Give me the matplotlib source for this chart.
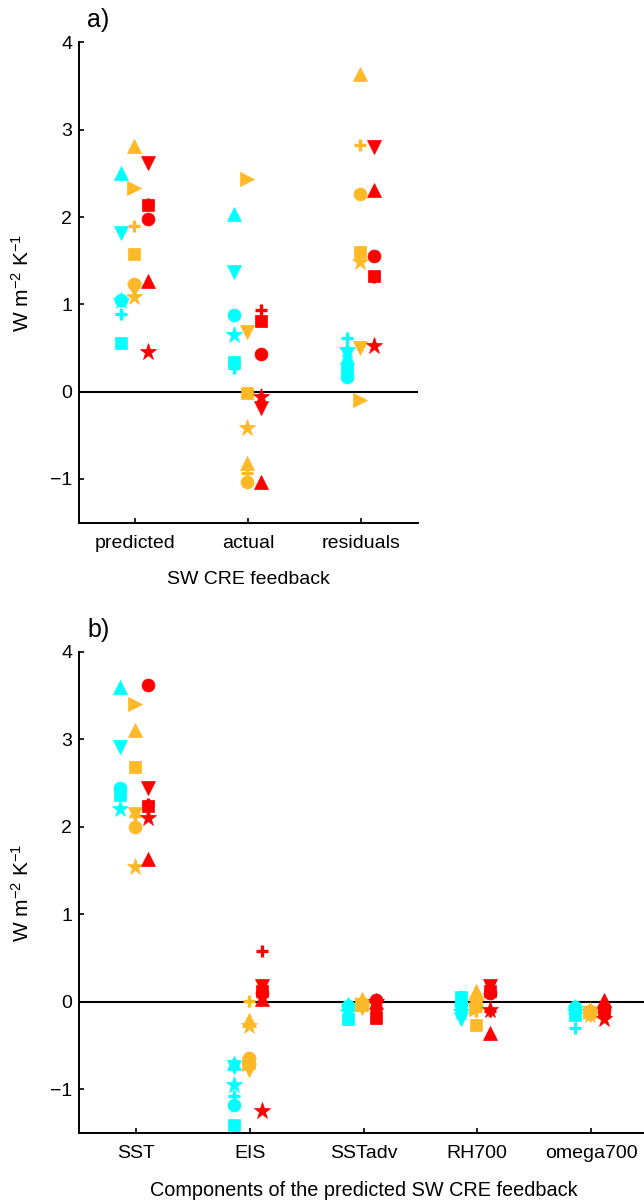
import numpy as np
import matplotlib
matplotlib.use('Agg')
import matplotlib.pyplot as plt

plt.rcParams['font.family'] = ['Liberation Sans', 'DejaVu Sans']
plt.rcParams['mathtext.fontset'] = 'custom'
plt.rcParams['mathtext.rm'] = 'Liberation Sans'
plt.rcParams['mathtext.it'] = 'Liberation Sans:italic'
plt.rcParams['font.size'] = 14

# Categories
cats_a = ['predicted', 'actual', 'residuals']
cats_b = ['SST', 'EIS', 'SSTadv', 'RH700', 'omega700']

# Model groups: marker per model
cyan_markers = ['+', '^', 'v', 'o', 's', '*']
orange_markers = ['+', '^', 'v', 'o', 's', '*', '>']
red_markers = ['+', '^', 'v', 'o', 's', '*']

# Panel a values (rows follow marker lists, cols follow cats_a)
cyan_a = [[0.89, 0.27, 0.61],
          [2.50, 2.04, 0.40],
          [1.82, 1.37, 0.43],
          [1.05, 0.88, 0.17],
          [0.56, 0.34, 0.25],
          [1.04, 0.65, 0.48]]
orange_a = [[1.90, -0.93, 2.82],
            [2.81, -0.82, 3.64],
            [1.18, 0.68, 0.50],
            [1.23, -1.03, 2.26],
            [1.58, -0.02, 1.60],
            [1.08, -0.42, 1.49],
            [2.33, 2.43, -0.10]]
red_a = [[2.15, 0.94, 1.31],
         [1.27, -1.03, 2.31],
         [2.62, -0.19, 2.80],
         [1.98, 0.43, 1.55],
         [2.14, 0.81, 1.33],
         [0.45, -0.06, 0.52]]

# Panel b values (cols follow cats_b)
cyan_b = [[2.40, -1.08, -0.15, 0.02, -0.30],
          [3.60, -0.70, -0.03, 0.05, -0.05],
          [2.91, -0.74, -0.10, -0.20, -0.13],
          [2.45, -1.18, -0.05, -0.05, -0.06],
          [2.37, -1.41, -0.20, 0.06, -0.15],
          [2.21, -0.95, -0.12, -0.12, -0.12]]
orange_b = [[2.12, 0.01, -0.05, -0.10, -0.10],
            [3.11, -0.21, 0.03, 0.12, -0.08],
            [2.15, -0.78, -0.07, -0.05, -0.15],
            [2.00, -0.64, -0.01, -0.05, -0.10],
            [2.68, -0.70, -0.04, -0.27, -0.12],
            [1.54, -0.28, 0.00, 0.00, -0.15],
            [3.41, -0.71, -0.03, -0.08, -0.12]]
red_b = [[2.26, 0.58, -0.10, -0.10, -0.12],
         [1.63, 0.03, 0.00, -0.36, 0.02],
         [2.44, 0.18, -0.05, 0.18, -0.14],
         [3.62, 0.10, 0.02, 0.10, -0.08],
         [2.24, 0.12, -0.19, 0.12, -0.10],
         [2.10, -1.25, 0.00, -0.09, -0.20]]

CYAN = (0.0, 1.0, 1.0)
ORANGE = (1.0, 0.72, 0.15)
RED = (1.0, 0.0, 0.0)

groups_a = [(cyan_markers, cyan_a, CYAN, -0.13),
            (orange_markers, orange_a, ORANGE, -0.01),
            (red_markers, red_a, RED, 0.11)]
groups_b = [(cyan_markers, cyan_b, CYAN, -0.14),
            (orange_markers, orange_b, ORANGE, -0.01),
            (red_markers, red_b, RED, 0.11)]

msize = {'o': 9.3, 's': 8, '^': 10.5, 'v': 10.5, '>': 10.5, '*': 12.5, '+': 8}


def draw(ax, groups, cats):
    x = np.arange(1, len(cats) + 1)
    for markers, vals, col, off in groups:
        vals = np.array(vals)
        for m, row in zip(markers, vals):
            if m == '+':
                ax.plot(x + off, row, ls='none', marker='+', ms=msize[m],
                        mew=2.4, color=col)
            else:
                ax.plot(x + off, row, ls='none', marker=m, ms=msize[m],
                        mfc=col, mec=col, mew=0.5)
    ax.axhline(0, color='k', lw=1.5, zorder=0)
    ax.set_xlim(0.5, len(cats) + 0.5)
    ax.set_ylim(-1.5, 4)
    ax.set_yticks([-1, 0, 1, 2, 3, 4])
    ax.set_xticks(x)
    ax.set_xticklabels(cats)
    for s in ['top', 'right']:
        ax.spines[s].set_visible(False)
    for s in ['left', 'bottom']:
        ax.spines[s].set_linewidth(1.4)
    ax.tick_params(direction='in', length=3.6, width=1.2, labelsize=14)
    ax.tick_params(axis='x', pad=9)
    ax.tick_params(axis='y', pad=5)
    ax.set_ylabel(r'W m$^{-2}$ K$^{-1}$', fontsize=15)


fig = plt.figure(figsize=(6.44, 12.01), dpi=100)
ax1 = fig.add_axes([79 / 644, 1 - 522.6 / 1201, 338.7 / 644, 480.2 / 1201])
ax2 = fig.add_axes([79 / 644, 1 - 1133 / 1201, 569 / 644, 481 / 1201])

draw(ax1, groups_a, cats_a)
draw(ax2, groups_b, cats_b)

ax1.set_xlabel('SW CRE feedback', fontsize=14)
ax2.set_xlabel('Components of the predicted SW CRE feedback', fontsize=14.3)
ax1.xaxis.set_label_coords(0.5, -0.100)
ax2.xaxis.set_label_coords(0.5, -0.099)
ax1.yaxis.set_label_coords((33 - 79) / 338.7, 0.5)
ax2.yaxis.set_label_coords((33 - 79) / 569, 0.5)

fig.text(87 / 644, 1 - 20 / 1201, 'a)', fontsize=18, ha='left', va='center')
fig.text(87 / 644, 1 - 630 / 1201, 'b)', fontsize=18, ha='left', va='center')

fig.savefig('out.png', dpi=100)
